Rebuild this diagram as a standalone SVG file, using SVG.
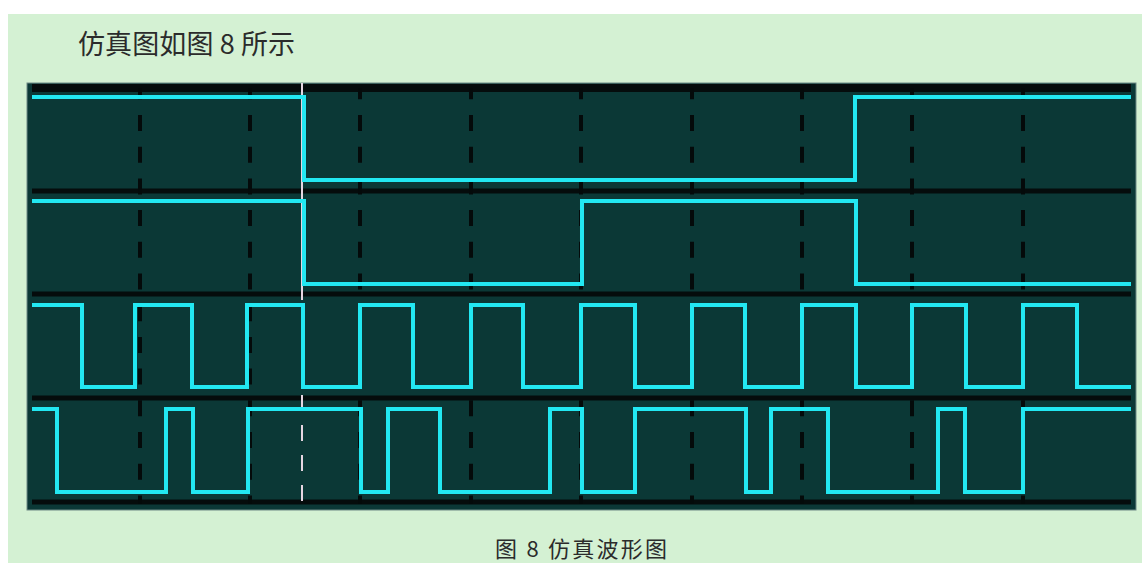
<svg xmlns="http://www.w3.org/2000/svg" width="1142" height="563" viewBox="0 0 1142 563">
<style>
.txt{font-family:"Noto Sans CJK SC","Liberation Serif",sans-serif;fill:#2b2b2b}
.sep{stroke:#050c0c;stroke-width:5}
.grid{stroke:#040a0a;stroke-width:4;stroke-dasharray:16 15.7;stroke-dashoffset:4.7}
.wave{fill:none;stroke:#22e8f2;stroke-width:4;stroke-linejoin:miter;stroke-linecap:butt}
.cursor{stroke:#e6d6e2;stroke-width:2}
</style>
<rect x="0" y="0" width="1142" height="563" fill="#ffffff"/>
<rect x="8" y="14" width="1134" height="549" fill="#d4f1d3"/>
<text class="txt" x="78" y="54" font-size="27" textLength="217" lengthAdjust="spacing">仿真图如图 8 所示</text>
<g id="panel">
<rect x="27" y="83" width="1109" height="427" fill="#0b3836" stroke="#6f8a86" stroke-width="1"/>
<rect x="32" y="84" width="1099" height="8" fill="#050c0c"/>
<line class="sep" x1="32" y1="191" x2="1131" y2="191"/>
<line class="sep" x1="32" y1="294" x2="1131" y2="294"/>
<line class="sep" x1="32" y1="398" x2="1131" y2="398"/>
<line class="sep" x1="32" y1="502" x2="1131" y2="502"/>
</g>
<g id="grid">
<line class="grid" x1="140" y1="88" x2="140" y2="504"/>
<line class="grid" x1="250" y1="88" x2="250" y2="504"/>
<line class="grid" x1="360" y1="88" x2="360" y2="504"/>
<line class="grid" x1="471" y1="88" x2="471" y2="504"/>
<line class="grid" x1="581" y1="88" x2="581" y2="504"/>
<line class="grid" x1="692" y1="88" x2="692" y2="504"/>
<line class="grid" x1="802" y1="88" x2="802" y2="504"/>
<line class="grid" x1="912" y1="88" x2="912" y2="504"/>
<line class="grid" x1="1023" y1="88" x2="1023" y2="504"/>
</g>
<g id="cursor">
<line class="cursor" x1="302" y1="83" x2="302" y2="300"/>
<line class="cursor" x1="302" y1="395" x2="302" y2="506" stroke-dasharray="16 14"/>
</g>
<g id="connectors">
<path id="wave1" class="wave" d="M32,97 H304 V180 H855 V97 H1131"/>
<path id="wave2" class="wave" d="M32,201 H304 V284 H582 V201 H856 V284 H1131"/>
<path id="wave3" class="wave" d="M32,305 H82 V387 H135 V305 H192 V387 H247 V305 H303 V387 H360 V305 H413 V387 H471 V305 H523 V387 H581 V305 H635 V387 H692 V305 H745 V387 H802 V305 H856 V387 H912 V305 H966 V387 H1023 V305 H1077 V387 H1131"/>
<path id="wave4" class="wave" d="M32,409 H57 V492 H166 V409 H193 V492 H248 V409 H361 V492 H388 V409 H440 V492 H550 V409 H582 V492 H635 V409 H746 V492 H771 V409 H828 V492 H938 V409 H965 V492 H1023 V409 H1131"/>
</g>
<text class="txt" x="495" y="557" font-size="22" textLength="172" lengthAdjust="spacing">图 8 仿真波形图</text>
</svg>
